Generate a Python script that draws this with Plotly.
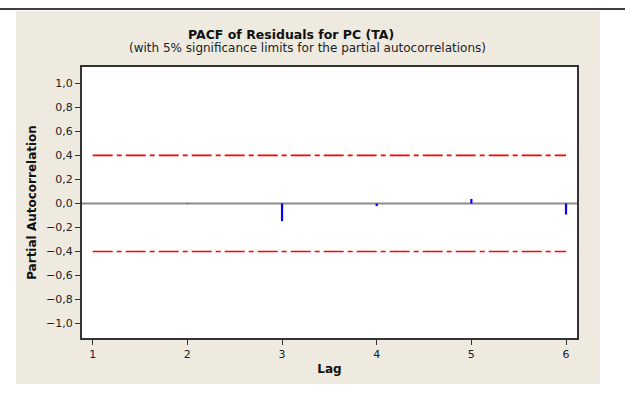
import plotly.graph_objects as go

lags = [1, 2, 3, 4, 5, 6]
pacf = [0.0, 0.004, -0.147, -0.022, 0.037, -0.092]
sig_limit = 0.40
x_ticks = [1, 2, 3, 4, 5, 6]
y_ticks = [-1.0, -0.8, -0.6, -0.4, -0.2, 0.0, 0.2, 0.4, 0.6, 0.8, 1.0]

FONT = "DejaVu Sans"

# spikes built from data
sx, sy = [], []
for l, v in zip(lags, pacf):
    sx += [l, l, None]
    sy += [0, v, None]

fig = go.Figure()
fig.add_trace(go.Scatter(x=[0.5, 6.5], y=[0, 0], mode="lines",
                         line=dict(color="#8C8C8C", width=2), hoverinfo="skip"))
fig.add_trace(go.Scatter(x=[lags[0], lags[-1]], y=[sig_limit, sig_limit], mode="lines",
                         line=dict(color="#FF0000", width=1.6, dash="20px,4px,5px,4px")))
fig.add_trace(go.Scatter(x=[lags[0], lags[-1]], y=[-sig_limit, -sig_limit], mode="lines",
                         line=dict(color="#FF0000", width=1.6, dash="20px,4px,5px,4px")))
fig.add_trace(go.Scatter(x=sx, y=sy, mode="lines",
                         line=dict(color="#0000FF", width=2.2)))

fig.update_layout(
    width=625, height=400,
    margin=dict(l=82, r=48, t=67, b=62),
    paper_bgcolor="white", plot_bgcolor="white",
    showlegend=False,
    separators=",.",
    font=dict(family=FONT, color="#222222", size=11),
    shapes=[
        dict(type="rect", xref="paper", yref="paper", layer="below",
             x0=-66/495, x1=(600-82)/495, y0=-(384-338)/271, y1=(338-11)/271,
             fillcolor="#EEEAE0", line=dict(width=0)),
        dict(type="rect", xref="paper", yref="paper", layer="below",
             x0=0, x1=1, y0=0, y1=1, fillcolor="white", line=dict(width=0)),
        dict(type="line", xref="paper", yref="paper",
             x0=-82/495, x1=(625-82)/495, y0=(338-9)/271, y1=(338-9)/271,
             line=dict(color="black", width=1.5)),
    ],
    annotations=[
        dict(text="<b>PACF of Residuals for PC (TA)</b>", xref="paper", yref="paper",
             x=(291-82)/495, y=(338-34)/271, showarrow=False,
             font=dict(family=FONT, size=12.5, color="#111111"), xanchor="center", yanchor="middle"),
        dict(text="(with 5% significance limits for the partial autocorrelations)", xref="paper", yref="paper",
             x=(307-82)/495, y=(338-48)/271, showarrow=False,
             font=dict(family=FONT, size=12, color="#222222"), xanchor="center", yanchor="middle"),
    ],
)

fig.update_xaxes(
    range=[0.887, 6.116], tickvals=x_ticks, ticktext=[str(t) for t in x_ticks],
    ticks="outside", ticklen=5, tickcolor="#333333", tickwidth=1,
    showline=True, linecolor="#333333", linewidth=2, mirror=True,
    showgrid=False, zeroline=False,
    tickfont=dict(family=FONT, size=11, color="#222222"),
    title=dict(text="<b>Lag</b>", font=dict(family=FONT, size=12, color="#111111"), standoff=4),
)
fig.update_yaxes(
    range=[-1.12, 1.136], tickvals=y_ticks, tickformat=".1f",
    ticks="outside", ticklen=5, tickcolor="#333333", tickwidth=1,
    showline=True, linecolor="#333333", linewidth=2, mirror=True,
    showgrid=False, zeroline=False,
    tickfont=dict(family=FONT, size=11, color="#222222"),
    title=dict(text="<b>Partial Autocorrelation</b>", font=dict(family=FONT, size=12, color="#111111"), standoff=7),
)

fig.write_html("out.html")
